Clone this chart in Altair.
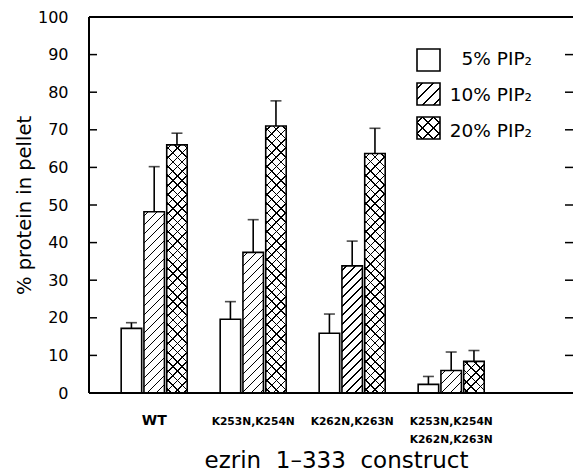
import altair as alt
import pandas as pd

# ---------------- data ----------------
constructs = ["WT", "K253N,K254N", "K262N,K263N", "K253N,K254N\nK262N,K263N"]
pip_levels = ["5% PIP₂", "10% PIP₂", "20% PIP₂"]
pct_5 = [17.2, 19.6, 15.9, 2.3]
pct_10 = [48.2, 37.4, 33.8, 6.0]
pct_20 = [66.0, 71.0, 63.7, 8.4]
err_5 = [1.5, 4.7, 5.1, 2.1]
err_10 = [12.0, 8.7, 6.6, 4.9]
err_20 = [3.1, 6.7, 6.7, 2.9]
y_ticks = [0, 10, 20, 30, 40, 50, 60, 70, 80, 90, 100]

rows = []
for pi, (lvl, vals, errs) in enumerate(zip(pip_levels, [pct_5, pct_10, pct_20], [err_5, err_10, err_20])):
    for ci, (c, v, e) in enumerate(zip(constructs, vals, errs)):
        rows.append({"construct": c, "pip": lvl, "pi": pi, "ci": ci, "value": v, "hi": v + e})
df = pd.DataFrame(rows)
legend_df = pd.DataFrame({"label": pip_levels, "pi": [0, 1, 2]})
tick_df = pd.DataFrame({"value": y_ticks})

# ---------------- layout ----------------
TOP = 9
W, H = 484, 376
P_IN, P_OUT, ALIGN = 0.333, 0.611, 0.266
SUB_PAD = 0.1
step_x = W / (len(constructs) - P_IN + 2 * P_OUT)
band_x = step_x * (1 - P_IN)
bar_w = band_x / (len(pip_levels) - SUB_PAD) * (1 - SUB_PAD)
px_per_unit = H / 100.0

FONT = "DejaVu Sans"


def hatch(w, h, period, direction, bg="white", fg="black", lw=1.5):
    """Linear gradient with sharp stops that draws 45-degree hatch lines."""
    L = w + h
    k = L / (w * w + h * h)
    if direction == "/":
        x1, y1, x2, y2 = 0, 0, k * w, k * h
    else:
        x1, y1, x2, y2 = 0, 1, k * w, 1 - k * h
    stops = [{"offset": 0, "color": bg}]
    s = period / 2.0
    while s < L:
        a = max(0.0, (s - lw / 2) / L)
        b = min(1.0, (s + lw / 2) / L)
        stops += [{"offset": a, "color": bg}, {"offset": a, "color": fg},
                  {"offset": b, "color": fg}, {"offset": b, "color": bg}]
        s += period
    stops.append({"offset": 1, "color": bg})
    return {"gradient": "linear", "x1": x1, "y1": y1, "x2": x2, "y2": y2, "stops": stops}


x_scale = alt.Scale(domain=constructs, paddingInner=P_IN, paddingOuter=P_OUT, align=ALIGN)
xo_scale = alt.Scale(domain=pip_levels, paddingInner=SUB_PAD, paddingOuter=0)
y_scale = alt.Scale(domain=[0, 100], nice=False, zero=True)

x_axis = alt.Axis(
    title="ezrin\u00a0\u00a01–333\u00a0\u00a0construct",
    labelExpr="split(datum.label, '\\n')",
    labelAngle=0, domain=False, ticks=False, grid=False,
    labelFont=FONT, labelFontWeight="bold",
    labelFontSize={"condition": {"test": "datum.value == 'WT'", "value": 14}, "value": 10.7},
    labelBaseline="alphabetic", labelPadding=31, labelLineHeight=18,
    labelColor="black",
    titleFont=FONT, titleFontSize=23, titleFontWeight="normal", titleColor="black",
    titlePadding=6, titleX=247, titleAlign="center",
)
y_axis = alt.Axis(
    values=y_ticks, title="% protein in pellet", orient="left",
    domain=False, ticks=False, grid=False,
    labelFont=FONT, labelFontSize=16, labelPadding=21, labelColor="black",
    titleFont=FONT, titleFontSize=19.5, titleFontWeight="normal", titleColor="black",
    titlePadding=3,
)

X = alt.X("construct:N", scale=x_scale, axis=x_axis, sort=constructs)
XO = alt.XOffset("pip:N", scale=xo_scale, sort=pip_levels)
Y = alt.Y("value:Q", scale=y_scale, axis=y_axis)
Y_HI = alt.Y("hi:Q", scale=y_scale, axis=y_axis)

base = alt.Chart(df).encode(x=X, xOffset=XO, y=Y)

layers = []
# 5% bars: open
layers.append(base.transform_filter(alt.datum.pi == 0)
              .mark_bar(fill="white", stroke="black", strokeWidth=1.6))
# 10% bars: single hatch
for ci, v in enumerate(pct_10):
    h = v * px_per_unit
    layers.append(
        base.transform_filter((alt.datum.pi == 1) & (alt.datum.ci == ci))
        .mark_bar(fill=hatch(bar_w, h, 9.0, "/"), stroke="black", strokeWidth=1.6)
    )
# 20% bars: cross hatch (two layers)
for ci, v in enumerate(pct_20):
    h = v * px_per_unit
    sel = base.transform_filter((alt.datum.pi == 2) & (alt.datum.ci == ci))
    layers.append(sel.mark_bar(fill=hatch(bar_w, h, 9.3, "/"), strokeWidth=0))
    layers.append(sel.mark_bar(fill=hatch(bar_w, h, 9.3, "\\", bg="rgba(255,255,255,0)"),
                               stroke="black", strokeWidth=1.6))

# error bars (upper only) with caps
layers.append(base.mark_rule(color="black", strokeWidth=1.6).encode(y2="hi:Q"))
layers.append(base.mark_tick(color="black", thickness=1.6, size=11, orient="horizontal")
              .encode(y=Y_HI))

# inward ticks on left and right side
for x0, x1 in [(0, 8), (W - 8, W)]:
    layers.append(
        alt.Chart(tick_df).mark_rule(color="black", strokeWidth=1.5).encode(
            y=Y, x=alt.value(x0), x2=alt.value(x1),
        )
    )

# frame: left, top and bottom lines (the right edge is cut off in the original)
frame_df = pd.DataFrame({"side": ["left", "top", "bottom"]})
layers.append(alt.Chart(frame_df).transform_filter(alt.datum.side == "left")
              .mark_rule(color="black", strokeWidth=2)
              .encode(x=alt.value(0), y=alt.value(0), y2=alt.value(H)))
layers.append(alt.Chart(frame_df).transform_filter(alt.datum.side == "top")
              .mark_rule(color="black", strokeWidth=2)
              .encode(x=alt.value(0), x2=alt.value(W), y=alt.value(0)))
layers.append(alt.Chart(frame_df).transform_filter(alt.datum.side == "bottom")
              .mark_rule(color="black", strokeWidth=2)
              .encode(x=alt.value(0), x2=alt.value(W), y=alt.value(H)))

# legend (drawn inside the plot)
box_x, box_w, box_h = 328, 23, 22
box_y = [32, 66, 100]
text_y = [48, 84, 120]
legend_fills = [
    ["white"],
    [hatch(box_w, box_h, 11.0, "/")],
    [hatch(box_w, box_h, 11.0, "/"), hatch(box_w, box_h, 11.0, "\\", bg="rgba(255,255,255,0)")],
]
for i in range(3):
    fills = legend_fills[i]
    for j, f in enumerate(fills):
        last = j == len(fills) - 1
        mk = dict(fill=f, strokeWidth=1.6 if last else 0)
        if last:
            mk["stroke"] = "black"
        layers.append(
            alt.Chart(legend_df).transform_filter(alt.datum.pi == i).mark_rect(**mk).encode(
                x=alt.value(box_x), x2=alt.value(box_x + box_w),
                y=alt.value(box_y[i]), y2=alt.value(box_y[i] + box_h),
            )
        )
    layers.append(
        alt.Chart(legend_df).transform_filter(alt.datum.pi == i).mark_text(
            align="right", baseline="alphabetic", font=FONT, fontSize=18.5, color="black"
        ).encode(text="label:N", x=alt.value(443), y=alt.value(text_y[i]))
    )

chart = alt.layer(*layers).properties(
    width=W, height=H, background="white",
    autosize=alt.AutoSizeParams(type="none"),
    padding={"left": 81, "top": TOP, "right": 0, "bottom": 79},
).configure_view(stroke=None)

chart.save("out.html", embed_options={"renderer": "svg", "actions": False})
